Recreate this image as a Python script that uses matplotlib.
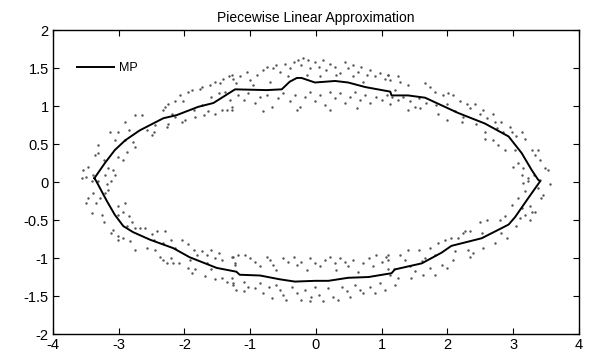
import matplotlib
matplotlib.use('Agg')
import matplotlib.pyplot as plt
import numpy as np

plt.rcParams['font.family'] = ['Liberation Sans', 'DejaVu Sans']
plt.rcParams['axes.unicode_minus'] = False

# piecewise linear approximation (upper half, left -> right)
mp_top_x = [-3.37, -3.21, -3.06, -2.90, -2.68, -2.32, -2.12, -1.79, -1.56, -1.23,
            -0.75, -0.52, -0.40, -0.29, -0.22, -0.015, 0.29, 0.49, 0.75, 1.13,
            1.15, 1.40, 1.66, 1.91, 2.16, 2.57, 2.93, 3.13, 3.28, 3.38]
mp_top_y = [0.05, 0.25, 0.42, 0.55, 0.68, 0.84, 0.88, 0.99, 1.04, 1.22,
            1.21, 1.22, 1.32, 1.37, 1.37, 1.31, 1.33, 1.31, 1.25, 1.19,
            1.14, 1.14, 1.11, 1.01, 0.91, 0.77, 0.60, 0.38, 0.16, 0.03]
# lower half, right -> left
mp_bot_x = [3.41, 3.23, 3.03, 2.93, 2.52, 2.06, 1.91, 1.61, 1.20, 1.15,
            0.80, 0.49, 0.19, -0.015, -0.32, -0.55, -0.85, -1.16, -1.21, -1.51,
            -1.92, -2.17, -2.52, -2.78, -2.93, -3.06, -3.18, -3.34, -3.37]
mp_bot_y = [0.01, -0.21, -0.46, -0.56, -0.74, -0.84, -0.93, -1.07, -1.15, -1.20,
            -1.25, -1.26, -1.30, -1.30, -1.31, -1.28, -1.23, -1.22, -1.18, -1.13,
            -0.99, -0.87, -0.76, -0.66, -0.58, -0.43, -0.25, 0.01, 0.05]

# noisy samples
pts_x = [
    -1.41, -1.33, -1.28, -1.54, -1.46, -1.61, -1.74, -1.76, -1.89, -1.94, -2.07, -2.02, -2.14,
    -2.25, -2.30, -2.32, -2.19, -2.14, -2.04, -1.99, -2.25, -2.27, -2.45, -2.47, -2.50, -2.57,
    -2.65, -2.75, -2.90, -2.85, -3.01, -3.13, -3.06, -2.90, -2.78, -2.75, -2.88, -2.93, -3.01,
    -3.08, -3.16, -3.23, -3.31, -3.31, -3.36, -3.46, -3.54, -3.56, -3.49, -3.39, -3.21, -3.06,
    -1.38, -1.31, -1.43, -1.36, -1.28, -1.54, -1.64, -1.71, -1.84, -1.86, -1.74, -1.59, -1.48,
    -1.26, -1.16, -1.05, -1.00, -0.90, -0.80, -0.75, -0.65, -0.60, -0.55, -0.47, -0.40, -0.34,
    -0.27, -0.22, -0.19, -0.12, -0.09, -0.015, 0.04, 0.11, 0.16, 0.21, 0.29, 0.37, 0.44, 0.49,
    0.57, 0.64, 0.69, 0.77, 0.82, 0.90, 0.97, 1.05, 1.10, -1.21, -0.95, -0.70, -0.42, -0.14,
    0.06, 0.31, 0.57, 0.72,
    -1.28, -1.18, -1.10, -1.03, -0.93, -0.85, -0.75, -0.67, -0.57, -0.50, -0.40, -0.32, -0.24,
    -0.17, -0.09, -0.015, 0.06, 0.14, 0.21, 0.29, 0.37, 0.44, 0.52, 0.59, 0.67, 0.75, 0.82,
    0.92, 1.00, 1.08, -0.80, -0.29, 0.21, 0.62,
    1.10, 1.13, 1.25, 1.28, 1.20, 1.15, 1.13, 1.25, 1.33, 1.40, 1.43, 1.40, 1.50, 1.56, 1.58,
    1.66, 1.73, 1.68, 1.81, 1.83, 1.86, 1.94, 1.99, 2.01, 1.99, 2.09, 2.11, 2.19, 2.24, 2.22,
    2.29, 2.34, 2.42, 2.44, 2.49, 2.54, 2.57, 2.60, 2.57, 2.70, 2.72, 2.75, 2.82, 2.85, 2.70,
    2.77, 2.87, 2.95, 2.98, 3.05, 3.03, 3.13, 3.18, 3.08, 3.15, 3.28, 3.33, 3.38, 3.41, 3.48,
    3.53, 3.00, 3.13, 3.23, 3.31,
    -3.41, -3.31, -3.18, -3.11, -3.16, -3.21, -3.39, -3.46, -3.49, -3.34, -3.29, -3.41, -3.26,
    -3.23, -3.01, -2.90, -2.93, -3.01, -2.85, -2.80, -2.88, -3.08, -3.11, -3.01, -3.01, -2.93,
    -2.75, -2.68, -2.60, -2.83, -2.75, -2.57, -2.50, -2.42, -2.30, -2.47, -2.32, -2.45, -2.37,
    -2.32, -2.27, -2.20, -2.04, -2.14, -2.20, -2.17, -2.09, -1.94, -1.86, -1.81, -1.92, -1.94,
    -1.89, -1.84, -1.74, -1.66, -1.59, -1.54, -1.48, -1.43, -1.66, -1.59, -1.69, -1.54, -1.43,
    -1.36, -1.28, -1.28, -1.23, -1.26,
    -1.26, -1.18, -1.23, -1.08, -1.00, -0.93, -0.85, -0.75, -0.70, -0.65, -0.60, -0.50, -0.42,
    -0.34, -0.29, -0.22, -0.14, -0.09, -0.015, 0.06, 0.14, 0.21, 0.29, 0.37, 0.31, 0.44, 0.49,
    0.57, 0.64, 0.72, 0.80, 0.87, 0.92, 1.00, 1.07, 1.10,
    -1.26, -1.21, -1.10, -1.03, -0.93, -0.85, -0.80, -0.72, -0.67, -0.60, -0.55, -0.50, -0.45,
    -0.37, -0.29, -0.22, -0.17, -0.09, -0.015, 0.04, 0.11, 0.19, 0.26, 0.34, 0.39, 0.47, 0.52,
    0.59, 0.67, 0.72, 0.82, 0.90, 0.97, 1.05, -1.10, -0.07,
    1.10, 1.10, 1.18, 1.13, 1.20, 1.25, 1.28, 1.35, 1.40, 1.43, 1.50, 1.45, 1.56, 1.61, 1.63,
    1.66, 1.73, 1.73, 1.81, 1.81, 1.86, 1.91, 1.96, 1.99, 2.06, 2.09, 2.11, 2.16, 2.24, 2.27,
    2.32, 2.34, 2.39, 2.34, 2.49, 2.52, 2.54, 2.60, 2.72, 2.80, 2.82, 2.87, 2.90, 2.98, 3.05,
    3.08, 3.13, 3.10, 3.18, 3.18, 3.15, 3.23, 3.25, 3.28, 3.25, 3.33, 3.43, 3.46, 3.38, 3.56,
    3.41,
]
pts_y = [
    1.36, 1.39, 1.41, 1.32, 1.30, 1.28, 1.25, 1.23, 1.21, 1.19, 1.14, 1.06, 1.06,
    1.03, 0.99, 0.95, 0.90, 0.86, 0.79, 0.82, 0.77, 0.73, 0.75, 0.66, 0.62, 0.68,
    0.88, 0.88, 0.79, 0.68, 0.66, 0.66, 0.55, 0.55, 0.53, 0.46, 0.40, 0.29, 0.33,
    0.16, 0.18, 0.29, 0.38, 0.49, 0.36, 0.20, 0.16, 0.05, 0.07, 0.09, 0.09, 0.09,
    1.19, 1.08, 0.95, 0.95, 0.95, 0.90, 0.93, 0.88, 0.86, 0.95, 1.01, 1.12, 1.17,
    1.36, 1.39, 1.45, 1.34, 1.41, 1.47, 1.52, 1.50, 1.54, 1.45, 1.56, 1.50, 1.58,
    1.61, 1.54, 1.63, 1.61, 1.50, 1.58, 1.52, 1.61, 1.47, 1.56, 1.52, 1.43, 1.58, 1.50,
    1.54, 1.45, 1.52, 1.41, 1.47, 1.39, 1.43, 1.36, 1.41, 1.30, 1.28, 1.32, 1.39, 1.41,
    1.39, 1.41, 1.39, 1.32,
    0.99, 1.15, 1.08, 1.17, 1.04, 1.12, 1.15, 0.99, 1.10, 1.17, 1.06, 1.15, 0.99,
    1.12, 1.19, 1.06, 1.15, 1.01, 1.19, 1.10, 1.17, 1.04, 1.12, 1.19, 1.08, 1.15, 1.04,
    1.12, 1.08, 1.15, 0.93, 0.95, 0.95, 0.97,
    1.41, 1.34, 1.39, 1.32, 1.21, 1.12, 1.03, 1.08, 1.12, 1.28, 1.06, 0.95, 0.99, 1.10, 0.97,
    1.30, 1.25, 1.04, 1.19, 1.01, 0.90, 1.14, 1.03, 1.17, 0.82, 1.14, 0.93, 1.06, 0.86, 0.79,
    1.03, 0.97, 1.03, 0.77, 0.90, 0.95, 0.66, 0.84, 0.57, 0.90, 0.79, 0.71, 0.79, 0.66, 0.55,
    0.49, 0.42, 0.73, 0.66, 0.60, 0.42, 0.66, 0.57, 0.25, 0.18, 0.42, 0.36, 0.42, 0.29, 0.18,
    0.16, 0.20, 0.09, 0.05, 0.09,
    0.01, 0.01, -0.03, 0.01, -0.10, -0.14, -0.14, -0.21, -0.28, -0.28, -0.21, -0.41, -0.43,
    -0.52, -0.32, -0.28, -0.39, -0.43, -0.45, -0.52, -0.58, -0.63, -0.67, -0.71, -0.76, -0.74,
    -0.60, -0.60, -0.60, -0.78, -0.89, -0.87, -0.69, -0.65, -0.65, -0.76, -0.80, -0.89, -0.98,
    -1.02, -1.07, -0.76, -0.76, -0.87, -1.00, -1.07, -1.07, -0.82, -0.89, -0.96, -1.02, -1.13,
    -1.20, -1.15, -0.91, -0.96, -0.89, -1.00, -0.93, -1.02, -1.07, -1.15, -1.24, -1.28, -1.26,
    -1.31, -1.26, -0.98, -1.07, -1.35,
    -0.98, -0.96, -1.09, -0.96, -1.00, -1.05, -1.11, -0.98, -1.03, -1.09, -1.16, -1.00, -1.05,
    -0.98, -1.09, -1.05, -1.16, -1.00, -1.07, -1.11, -1.03, -0.98, -1.07, -1.00, -1.16, -1.05, -1.11,
    -1.03, -1.18, -1.07, -1.00, -1.11, -0.96, -1.05, -0.98, -1.14,
    -1.33, -1.42, -1.31, -1.38, -1.40, -1.33, -1.46, -1.38, -1.53, -1.36, -1.42, -1.49, -1.55,
    -1.38, -1.46, -1.55, -1.42, -1.57, -1.38, -1.49, -1.57, -1.40, -1.51, -1.55, -1.38, -1.44, -1.51,
    -1.36, -1.42, -1.46, -1.38, -1.46, -1.33, -1.42, -1.44, -1.51,
    -0.96, -1.02, -1.15, -1.22, -1.35, -1.26, -0.96, -1.02, -0.89, -1.11, -1.17, -1.26, -0.89, -1.04, -1.22,
    -1.00, -0.87, -1.13, -0.96, -1.22, -0.80, -1.09, -0.76, -1.13, -0.74, -1.02, -0.91, -0.74, -0.67, -0.65,
    -0.89, -0.98, -0.93, -0.65, -0.52, -0.67, -0.87, -0.50, -0.80, -0.50, -0.67, -0.45, -0.74, -0.30, -0.58,
    -0.21, -0.34, -0.47, -0.43, -0.12, -0.01, 0.01, -0.32, -0.39, -0.50, -0.39, -0.21, -0.17, -0.08, -0.03,
    0.03,
]

fig = plt.figure(figsize=(5.95, 3.58), dpi=100)
ax = fig.add_axes([0.089, 0.067, 0.884, 0.849])

ax.plot(pts_x, pts_y, linestyle='none', marker='.', markersize=1.5,
        color='#555555')
mp_x = mp_top_x + mp_bot_x
mp_y = mp_top_y + mp_bot_y
ax.plot(mp_x, mp_y, color='black', linewidth=1.4, label='MP')

ax.set_xlim(-4, 4)
ax.set_ylim(-2, 2)
ax.set_xticks(np.arange(-4, 5, 1))
ax.set_yticks(np.arange(-2, 2.5, 0.5))
ax.set_yticklabels(['-2', '-1.5', '-1', '-0.5', '0', '0.5', '1', '1.5', '2'])
ax.tick_params(direction='in', top=True, right=True, length=4, width=0.8,
               labelsize=10.5, pad=3)
for s in ax.spines.values():
    s.set_linewidth(1.0)

ax.set_title('Piecewise Linear Approximation', fontsize=10, pad=6)
ax.legend(loc='upper left', bbox_to_anchor=(0.045, 0.895), frameon=False,
          borderpad=0, borderaxespad=0, handlelength=3.0, handletextpad=0.4,
          fontsize=9)

fig.savefig('out.png', dpi=100)
